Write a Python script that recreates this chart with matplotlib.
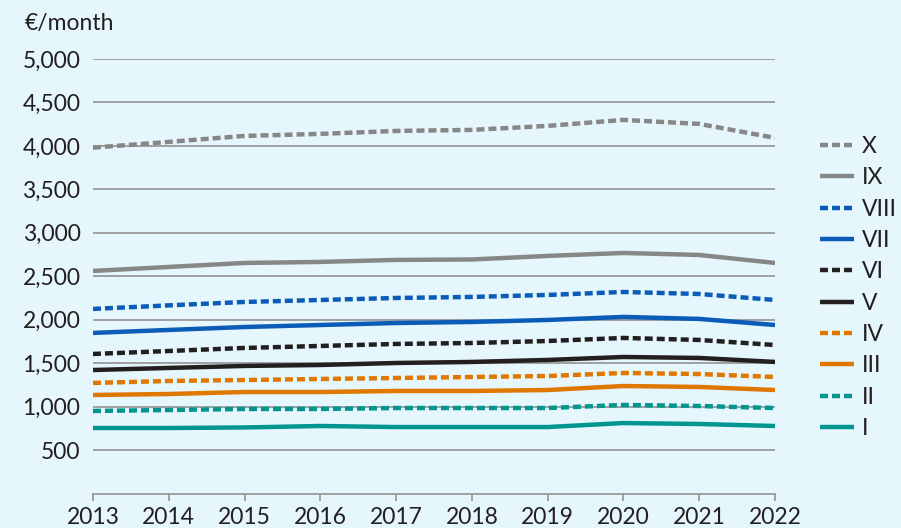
import matplotlib
matplotlib.use("Agg")
import matplotlib.pyplot as plt
import matplotlib.ticker as mticker

years = list(range(2013, 2023))

# monthly values per decile, €/month
d_x = [3980, 4046, 4115, 4138, 4172, 4184, 4230, 4299, 4253, 4092]
d_ix = [2561, 2607, 2653, 2665, 2688, 2693, 2734, 2768, 2745, 2653]
d_viii = [2124, 2165, 2204, 2227, 2250, 2262, 2285, 2319, 2296, 2227]
d_vii = [1848, 1882, 1916, 1939, 1962, 1974, 1997, 2032, 2009, 1939]
d_vi = [1606, 1640, 1675, 1698, 1721, 1732, 1755, 1790, 1767, 1709]
d_v = [1421, 1445, 1468, 1479, 1502, 1514, 1537, 1571, 1560, 1514]
d_iv = [1272, 1295, 1306, 1318, 1329, 1341, 1352, 1387, 1375, 1341]
d_iii = [1134, 1145, 1168, 1168, 1180, 1180, 1191, 1237, 1226, 1191]
d_ii = [950, 961, 973, 973, 984, 984, 984, 1019, 1007, 984]
d_i = [754, 754, 760, 777, 765, 765, 765, 811, 800, 777]

labels = ["X", "IX", "VIII", "VII", "VI", "V", "IV", "III", "II", "I"]
series = [d_x, d_ix, d_viii, d_vii, d_vi, d_v, d_iv, d_iii, d_ii, d_i]

grey = "#878787"
blue = "#0a5cb8"
black = "#231f20"
orange = "#e07800"
teal = "#00968f"
colors = [grey, grey, blue, blue, black, black, orange, orange, teal, teal]
dotted = [True, False] * 5

bg = "#e5f6fd"
txt = "#231f20"
fs = 16.5
plt.rcParams["font.family"] = ["Lato", "DejaVu Sans"]

fig = plt.figure(figsize=(9.01, 5.28), dpi=100, facecolor=bg)
ax = fig.add_axes([0.1032, 0.0653, 0.757, 0.8230], facecolor=bg)

for vals, lab, c, dot in zip(series, labels, colors, dotted):
    line, = ax.plot(years, vals, color=c, lw=3.2, label=lab,
                    solid_capstyle="butt", dash_capstyle="butt")
    if dot:
        line.set_dashes((1.8, 0.9))

ax.set_xlim(2013, 2022)
ax.set_ylim(0, 5000)
ax.set_yticks(range(500, 5001, 500))
ax.yaxis.set_major_formatter(mticker.FuncFormatter(lambda v, p: f"{int(v):,}"))
ax.set_xticks(years)
ax.grid(axis="y", color="#9a9a9a", lw=1.3)
ax.set_axisbelow(True)
for s in ["top", "right", "left"]:
    ax.spines[s].set_visible(False)
ax.spines["bottom"].set_color("#9a9a9a")
ax.spines["bottom"].set_linewidth(1.3)
ax.tick_params(axis="y", length=0, pad=9, labelsize=fs, labelcolor=txt)
ax.tick_params(axis="x", length=5, width=1.3, color="#9a9a9a", pad=5,
               labelsize=fs, labelcolor=txt)

fig.text(0.027, 0.955, "€/month", fontsize=fs, color=txt, va="center")

ax.legend(loc="upper left", bbox_to_anchor=(1.035, 0.87), frameon=False,
          fontsize=fs, handlelength=1.5, handletextpad=0.35,
          labelspacing=0.45, labelcolor=txt)

fig.savefig("out.png", dpi=100, facecolor=bg)
